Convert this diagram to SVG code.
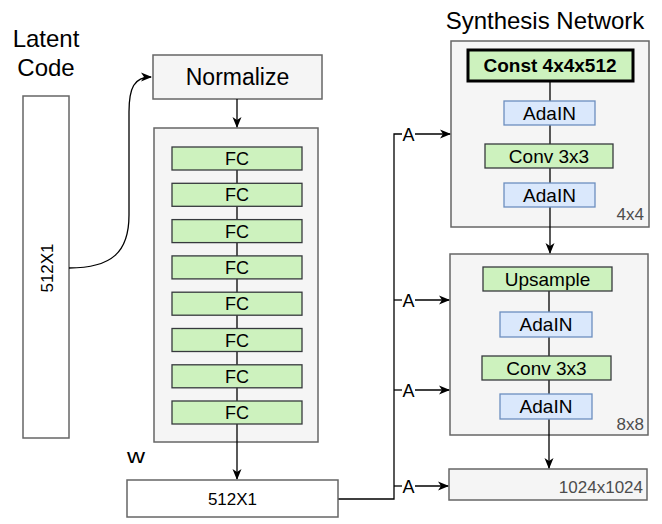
<svg xmlns="http://www.w3.org/2000/svg" width="662" height="524" viewBox="0 0 662 524">
<style>
text{font-family:"Liberation Sans",Arial,Helvetica,sans-serif;fill:#000}
.ct{text-anchor:middle}
.cont{fill:#f5f5f5;stroke:#666666;stroke-width:1.5}
.plain{fill:#ffffff;stroke:#666666;stroke-width:1.5}
.fc{fill:#cdf2be;stroke:#36393d;stroke-width:1.3}
.ada{fill:#dae8fc;stroke:#6c8ebf;stroke-width:1.3}
.ln{fill:none;stroke:#000;stroke-width:1.3}
.arr{fill:none;stroke:#000;stroke-width:1.3;marker-end:url(#ah)}
.gray{fill:#4d4d4d}
</style>
<defs>
<marker id="ah" markerUnits="userSpaceOnUse" markerWidth="12" markerHeight="10" refX="10" refY="5" orient="auto">
<path d="M0,0.5 L11,5 L0,9.5 L3,5 Z" fill="#000"/>
</marker>
</defs>
<rect width="662" height="524" fill="#ffffff"/>

<g id="labels">
<text x="46" y="47" class="ct" font-size="24">Latent</text>
<text x="46" y="76" class="ct" font-size="24">Code</text>
<text x="545" y="29" class="ct" font-size="24">Synthesis Network</text>
<text x="127" y="463" font-size="20" textLength="18" lengthAdjust="spacingAndGlyphs">w</text>
</g>

<g id="latent">
<rect x="23" y="96" width="46" height="342" class="plain"/>
<text transform="translate(53,268) rotate(-90)" class="ct" font-size="17">512X1</text>
</g>

<g id="normalize">
<rect x="153" y="55" width="169" height="44" class="cont"/>
<text x="237.5" y="85" class="ct" font-size="23">Normalize</text>
</g>

<g id="mapping">
<rect x="154" y="128" width="164" height="314" class="cont"/>
</g>

<g id="block4x4">
<rect x="451" y="41" width="198" height="186" class="cont"/>
<text x="644" y="220" font-size="17" text-anchor="end" class="gray">4x4</text>
</g>

<g id="block8x8">
<rect x="450" y="254" width="198" height="181" class="cont"/>
<text x="644" y="430" font-size="17" text-anchor="end" class="gray">8x8</text>
</g>

<g id="output">
<rect x="449" y="469" width="198" height="31" class="cont"/>
<text x="643" y="493" font-size="17" text-anchor="end" class="gray">1024x1024</text>
</g>

<g id="connectors">
<path d="M69,268 C112,268 129,252 129,215 L129,112 C129,88 134,77 151,77" class="arr"/>
<line x1="237" y1="99" x2="237" y2="127" class="arr"/>
<line x1="237" y1="150" x2="237" y2="405" class="ln"/>
<line x1="237" y1="424" x2="237" y2="479" class="arr"/>
<line x1="550" y1="81" x2="550" y2="186" class="ln"/>
<line x1="550" y1="207" x2="550" y2="253" class="arr"/>
<line x1="549" y1="291" x2="549" y2="396" class="ln"/>
<line x1="549" y1="419" x2="549" y2="468" class="arr"/>
<path d="M338,499 L394,499 L394,134 L402,134" class="ln"/>
<line x1="394" y1="300" x2="402" y2="300" class="ln"/>
<line x1="394" y1="390" x2="402" y2="390" class="ln"/>
<line x1="394" y1="486" x2="402" y2="486" class="ln"/>
<line x1="415" y1="134" x2="450" y2="134" class="arr"/>
<line x1="415" y1="300" x2="449" y2="300" class="arr"/>
<line x1="415" y1="390" x2="449" y2="390" class="arr"/>
<line x1="415" y1="486" x2="448" y2="486" class="arr"/>
<text x="408.5" y="140.5" class="ct" font-size="18">A</text>
<text x="408.5" y="306.5" class="ct" font-size="18">A</text>
<text x="408.5" y="396.5" class="ct" font-size="18">A</text>
<text x="408.5" y="492.5" class="ct" font-size="18">A</text>
</g>

<g id="fc1"><rect x="172" y="147" width="130" height="23" class="fc"/><text x="237" y="165" class="ct" font-size="18">FC</text></g>
<g id="fc2"><rect x="172" y="183.3" width="130" height="23" class="fc"/><text x="237" y="201.3" class="ct" font-size="18">FC</text></g>
<g id="fc3"><rect x="172" y="219.6" width="130" height="23" class="fc"/><text x="237" y="237.6" class="ct" font-size="18">FC</text></g>
<g id="fc4"><rect x="172" y="255.9" width="130" height="23" class="fc"/><text x="237" y="273.9" class="ct" font-size="18">FC</text></g>
<g id="fc5"><rect x="172" y="292.2" width="130" height="23" class="fc"/><text x="237" y="310.2" class="ct" font-size="18">FC</text></g>
<g id="fc6"><rect x="172" y="328.5" width="130" height="23" class="fc"/><text x="237" y="346.5" class="ct" font-size="18">FC</text></g>
<g id="fc7"><rect x="172" y="364.8" width="130" height="23" class="fc"/><text x="237" y="382.8" class="ct" font-size="18">FC</text></g>
<g id="fc8"><rect x="172" y="401" width="130" height="23" class="fc"/><text x="237" y="419" class="ct" font-size="18">FC</text></g>

<g id="wbox">
<rect x="127" y="480" width="211" height="37" class="plain"/>
<text x="232.5" y="505" class="ct" font-size="17">512X1</text>
</g>

<g id="const">
<rect x="468" y="50" width="165" height="31" fill="#cdf2be" stroke="#000" stroke-width="3"/>
<text x="550" y="72" class="ct" font-size="19" font-weight="bold">Const 4x4x512</text>
</g>
<g id="adain1"><rect x="504" y="101" width="91" height="24" class="ada"/><text x="549.5" y="120" class="ct" font-size="19">AdaIN</text></g>
<g id="conv1"><rect x="485" y="144" width="128" height="24" class="fc"/><text x="549" y="163" class="ct" font-size="19">Conv 3x3</text></g>
<g id="adain2"><rect x="504" y="183" width="91" height="24" class="ada"/><text x="549.5" y="202" class="ct" font-size="19">AdaIN</text></g>

<g id="upsample"><rect x="483" y="267" width="129" height="24" class="fc"/><text x="547.5" y="286" class="ct" font-size="19">Upsample</text></g>
<g id="adain3"><rect x="500" y="312" width="92" height="25" class="ada"/><text x="546" y="331" class="ct" font-size="19">AdaIN</text></g>
<g id="conv2"><rect x="482" y="356" width="129" height="24" class="fc"/><text x="546.5" y="375" class="ct" font-size="19">Conv 3x3</text></g>
<g id="adain4"><rect x="500" y="394" width="92" height="25" class="ada"/><text x="546" y="413" class="ct" font-size="19">AdaIN</text></g>
</svg>
